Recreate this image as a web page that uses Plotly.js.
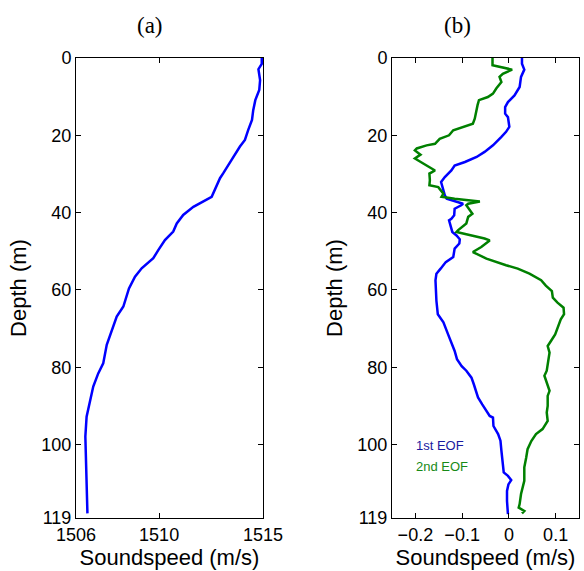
<!DOCTYPE html>
<html>
<head>
<meta charset="utf-8">
<script src="https://cdn.plot.ly/plotly-3.0.1.min.js"></script>
<style>html,body{margin:0;padding:0;background:#fff;}#chart{width:584px;height:571px;}</style>
</head>
<body>
<div id="chart"></div>
<script>
// Panel (a): mean sound speed profile
const depthA = [0,1.5,2.9,5.7,8.3,10.9,13.5,16,18.6,21.2,22.9,25.1,27.7,29.8,31.1,35.9,38.5,40.6,42.8,44.9,47.1,49.7,51.8,54.4,56.6,59.6,64.3,66.9,70.4,74.2,79,81.6,85,88.9,92.8,97.9,102.3,109.2,117.8];
const speedA = [1514.94,1514.94,1514.78,1514.86,1514.82,1514.63,1514.53,1514.47,1514.29,1514.13,1513.89,1513.65,1513.33,1513.09,1512.93,1512.53,1511.65,1511.16,1510.85,1510.68,1510.28,1509.96,1509.72,1509.16,1508.84,1508.55,1508.28,1507.96,1507.72,1507.48,1507.31,1507.07,1506.83,1506.67,1506.51,1506.45,1506.47,1506.51,1506.55];

// Panel (b): EOFs
const depthEOF1 = [0,1.5,3,4.9,7.5,9.7,11.4,12.7,14.4,15.3,17.8,19.1,20.4,22.6,24.3,25.6,26.9,27.8,29.1,30.8,32.1,33.4,35.5,36.4,37.2,37.7,38.1,39,40.7,41.6,42,43.3,45,45.9,46.9,48,49.3,51.5,52.8,54.5,55.8,57.5,60.3,62.8,66.3,68.4,71.5,73.6,75.8,77.9,79.7,80.9,82.7,84.4,86.6,87.8,89.6,91.3,92.6,93,95.2,97.3,99,101.6,104.2,107.2,108.1,109.2,110.3,112,114.6,118];
const eof1 = [0.028,0.028,0.033,0.026,0.023,0.012,-0.002,-0.008,-0.008,-0.002,0.001,-0.006,-0.016,-0.034,-0.052,-0.069,-0.094,-0.116,-0.123,-0.137,-0.145,-0.142,-0.137,-0.133,-0.112,-0.098,-0.102,-0.116,-0.117,-0.123,-0.128,-0.125,-0.121,-0.112,-0.105,-0.106,-0.116,-0.119,-0.135,-0.146,-0.155,-0.157,-0.156,-0.155,-0.152,-0.140,-0.130,-0.123,-0.116,-0.111,-0.101,-0.091,-0.080,-0.075,-0.070,-0.066,-0.057,-0.048,-0.041,-0.034,-0.033,-0.023,-0.018,-0.016,-0.013,-0.011,-0.002,0.005,-0.001,-0.004,-0.004,-0.002];
const depthEOF2 = [0,1.9,3,4.1,4.9,6.2,7.9,9.2,10.1,10.9,12.2,14,15.7,17,18.7,20,20.9,22.2,22.6,23.4,23.9,25,26,27.8,29.1,29.9,31.6,32.9,33.4,35.1,35.9,36.4,36.8,37.1,37.7,38.1,40.3,41.1,42.8,43.7,44.6,45,45.9,46.7,47.2,48.9,50.2,51.9,53.6,54.5,55.8,57.5,58.9,60.3,62,63.3,64.6,66.3,67.6,69.7,71.5,73.2,74.5,76.2,77.5,79.2,80.9,82.2,84.4,86.1,87.4,90,91.7,93.9,96,97.3,99.1,101.2,103.4,105.9,109.4,112.8,115.4,116.3,117.2,117.8];
const eof2 = [-0.035,-0.035,0.007,-0.013,-0.020,-0.016,-0.027,-0.034,-0.045,-0.064,-0.067,-0.070,-0.073,-0.077,-0.119,-0.128,-0.148,-0.158,-0.176,-0.197,-0.201,-0.189,-0.201,-0.176,-0.158,-0.170,-0.169,-0.170,-0.151,-0.140,-0.144,-0.116,-0.080,-0.062,-0.087,-0.091,-0.078,-0.087,-0.091,-0.101,-0.109,-0.112,-0.077,-0.052,-0.041,-0.059,-0.077,-0.048,-0.006,0.019,0.044,0.069,0.079,0.092,0.094,0.104,0.117,0.118,0.111,0.104,0.099,0.090,0.083,0.087,0.085,0.083,0.081,0.076,0.083,0.087,0.083,0.083,0.081,0.083,0.072,0.058,0.048,0.040,0.037,0.033,0.033,0.026,0.023,0.021,0.033,0.028];

const depthTicks = [0,20,40,60,80,100,119];
const xTicksA = [1506,1510,1515];
const xTicksB = [-0.2,-0.1,0,0.1];
const xTickTextB = ['\u22120.2','\u22120.1','0','0.1'];
const panelTitles = ['(a)','(b)'];
const seriesNames = ['1st EOF','2nd EOF'];

const FONT = 'Liberation Sans, Arial, Helvetica, sans-serif';
const BLUE = '#0000ff', GREEN = '#008000';

const traces = [
  {x: speedA, y: depthA, xaxis:'x', yaxis:'y', mode:'lines', line:{color:BLUE, width:2.5}, showlegend:false},
  {x: eof1, y: depthEOF1, xaxis:'x2', yaxis:'y2', mode:'lines', line:{color:BLUE, width:2.5}, name:seriesNames[0], showlegend:false},
  {x: eof2, y: depthEOF2, xaxis:'x2', yaxis:'y2', mode:'lines', line:{color:GREEN, width:2.5}, name:seriesNames[1], showlegend:false}
];

const yBase = {
  range:[119,0], tickvals:depthTicks, ticks:'inside', ticklen:5, tickcolor:'#000',
  mirror:'ticks', showline:true, linecolor:'#000', linewidth:1, showgrid:false, zeroline:false,
  tickfont:{family:FONT, size:18, color:'#000'},
  title:{text:'Depth (m)', font:{family:FONT, size:22, color:'#000'}, standoff:8},
  domain:[1-518/571, 1-58/571]
};
const xBase = {
  ticks:'inside', ticklen:5, tickcolor:'#000', mirror:'ticks', showline:true, linecolor:'#000',
  linewidth:1, showgrid:false, zeroline:false,
  tickfont:{family:FONT, size:18, color:'#000'},
  title:{text:'Soundspeed (m/s)', font:{family:FONT, size:22, color:'#000'}, standoff:4}
};

const layout = {
  width:584, height:571,
  margin:{l:0, r:0, t:0, b:0},
  paper_bgcolor:'#fff', plot_bgcolor:'#fff',
  showlegend:false,
  xaxis: Object.assign({}, xBase, {domain:[76/584, 263/584], range:[1506,1515], tickvals:xTicksA, anchor:'y'}),
  yaxis: Object.assign({}, yBase, {anchor:'x'}),
  xaxis2: Object.assign({}, xBase, {domain:[392/584, 579/584], range:[-0.25,0.15], tickvals:xTicksB, ticktext:xTickTextB, anchor:'y2'}),
  yaxis2: Object.assign({}, yBase, {anchor:'x2'}),
  annotations:[
    {text:panelTitles[0], xref:'paper', yref:'paper', x:150/584, y:1-25/571, showarrow:false, xanchor:'center', yanchor:'middle', font:{family:'Liberation Serif, Times New Roman, serif', size:23, color:'#000'}},
    {text:panelTitles[1], xref:'paper', yref:'paper', x:457/584, y:1-25/571, showarrow:false, xanchor:'center', yanchor:'middle', font:{family:'Liberation Serif, Times New Roman, serif', size:23, color:'#000'}},
    {text:seriesNames[0], xref:'paper', yref:'paper', x:414/584, y:1-445/571, showarrow:false, xanchor:'left', yanchor:'middle', font:{family:FONT, size:13, color:'#1a1aa0'}},
    {text:seriesNames[1], xref:'paper', yref:'paper', x:414/584, y:1-466/571, showarrow:false, xanchor:'left', yanchor:'middle', font:{family:FONT, size:13, color:'#178a17'}}
  ]
};

Plotly.newPlot('chart', traces, layout, {staticPlot:true, displayModeBar:false});
</script>
</body>
</html>
